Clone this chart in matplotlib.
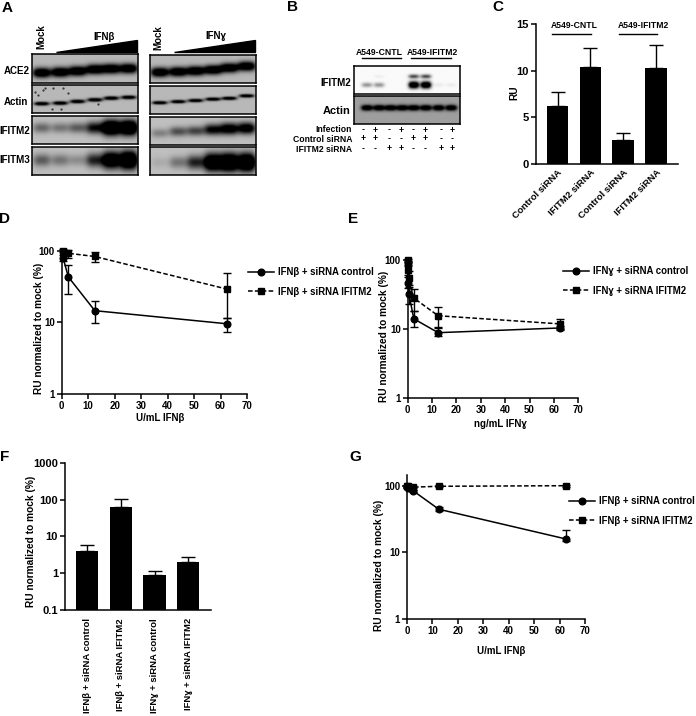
import numpy as np
import matplotlib
matplotlib.use('Agg')
import matplotlib.pyplot as plt
from matplotlib.patches import Polygon

plt.rcParams['font.family'] = ['Liberation Sans', 'DejaVu Sans']
plt.rcParams['font.weight'] = 'bold'
plt.rcParams['axes.labelweight'] = 'bold'

W, H = 696, 716

# A ブロット（バンドの濃さ）
a_lanes = [0.09, 0.265, 0.43, 0.595, 0.75, 0.915]
a_ace2_y_l = [0.65, 0.63, 0.59, 0.53, 0.51, 0.50]
a_ace2_y_r = [0.62, 0.60, 0.57, 0.53, 0.46, 0.40]
a_actin_y_l = [0.67, 0.65, 0.59, 0.53, 0.47, 0.44]
a_actin_y_r = [0.60, 0.56, 0.52, 0.47, 0.44, 0.35]
a_ace2_s = [1.05, 1.05, 1.05, 1.05, 1.05, 1.05]
a_actin_s = [1.0, 1.0, 1.0, 1.0, 1.0, 1.0]
a_m2_l = [0.35, 0.30, 0.40, 0.75, 1.4, 1.4]
a_m2_r = [0.25, 0.45, 0.50, 0.80, 0.95, 0.95]
a_m3_l = [0.40, 0.30, 0.20, 0.65, 1.2, 1.4]
a_m3_r = [0.08, 0.30, 0.65, 1.3, 1.4, 1.4]

# B ブロット
b_lanes = [0.12, 0.235, 0.345, 0.455, 0.565, 0.68, 0.80, 0.92]
b_m2_low = [0.4, 0.4, 0, 0, 1.5, 1.5, 0.06, 0.06]
b_m2_up = [0, 0.05, 0, 0, 0.7, 0.7, 0, 0]
b_actin = [0.9] * 8
b_infection = ['-', '+', '-', '+', '-', '+', '-', '+']
b_control = ['+', '+', '-', '-', '+', '+', '-', '-']
b_sirna = ['-', '-', '+', '+', '-', '-', '+', '+']
b_sign_x = [363, 375, 389, 401, 413, 425, 441, 452]

# C
c_labels = ['Control siRNA', 'IFITM2 siRNA', 'Control siRNA', 'IFITM2 siRNA']
c_vals = [6.25, 10.35, 2.55, 10.3]
c_err = [1.45, 2.05, 0.75, 2.45]

# D
d_x = [0.5, 2.5, 12.5, 62.5]
d_c = [80, 43, 14.5, 9.5]
d_c_lo = [8, 18, 4.7, 2.2]
d_c_hi = [8, 20, 5.5, 1.9]
d_s = [100, 92, 83, 29]
d_s_lo = [5, 12, 13, 17.6]
d_s_hi = [5, 10, 13, 19]

# E
e_x = [0.02, 0.1, 0.5, 2.5, 12.5, 62.5]
e_c = [90, 47, 32, 14, 8.8, 10.3]
e_c_lo = [8, 8, 9, 3.5, 0.8, 0.8]
e_c_hi = [8, 10, 11, 4, 1.6, 0.8]
e_s = [100, 72, 54, 28, 15.5, 11.8]
e_s_lo = [5, 12, 14, 10, 5, 1.8]
e_s_hi = [5, 12, 16, 10, 5.5, 2.2]

# F
f_labels = ['IFNβ + siRNA control', 'IFNβ + siRNA IFITM2', 'IFNɣ + siRNA control', 'IFNɣ + siRNA IFITM2']
f_vals = [3.9, 62, 0.87, 2.0]
f_err = [1.8, 43, 0.28, 0.75]

# G
g_x = [0.1, 0.5, 2.5, 12.5, 62.5]
g_c = [98, 95, 85, 45, 16]
g_c_lo = [3, 3, 4, 3, 1]
g_c_hi = [3, 3, 4, 3, 6]
g_s = [100, 100, 97, 100, 102]
g_s_err = [3, 3, 3, 3, 3]


def px_ax(fig, l, t, r, b):
    return fig.add_axes([l / W, 1 - b / H, (r - l) / W, (b - t) / H])


def txt(fig, x, y, s, size=6.5, ha='center', va='center', rot=0, weight='bold'):
    fig.text(x / W, 1 - y / H, s, fontsize=size, ha=ha, va=va, rotation=rot, fontweight=weight)


def hline(fig, x0, x1, y):
    fig.add_artist(plt.Line2D([x0 / W, x1 / W], [1 - y / H, 1 - y / H], color='black', lw=1))


def blot(fig, box, bg, layers):
    # layers: (レーン位置, y位置, 濃さ, 横幅, 縦幅)
    ax = px_ax(fig, *box)
    h, w = 60, 160
    yy, xx = np.mgrid[0:1:h * 1j, 0:1:w * 1j]
    img = np.full((h, w), float(bg))
    for lanes, ys, ss, sx, sy in layers:
        for c, y0, s in zip(lanes, ys, ss):
            g = s * np.exp(-(np.abs(xx - c) / sx) ** 3 - ((yy - y0) / (sy * (0.8 + 0.4 * s))) ** 2)
            img = img - g
    ax.imshow(np.clip(img, 0, 1), cmap='gray', vmin=0, vmax=1, aspect='auto',
              extent=[0, 1, 1, 0], interpolation='bilinear')
    ax.set_xticks([])
    ax.set_yticks([])
    for s in ax.spines.values():
        s.set_linewidth(1.1)
    return ax


def style(ax, fig, size, xlabel=None, xl=None, ylabel=None, yl=None):
    ax.spines['top'].set_visible(False)
    ax.spines['right'].set_visible(False)
    ax.spines['left'].set_linewidth(1.1)
    ax.spines['bottom'].set_linewidth(1.1)
    ax.tick_params(which='major', length=3.5, width=1.1, labelsize=size, pad=1.5)
    ax.tick_params(which='minor', length=0)
    if ylabel:
        ax.set_ylabel(ylabel, fontsize=7.3, va='center')
        ax.yaxis.set_label_coords(yl[0] / W, 1 - yl[1] / H, transform=fig.transFigure)
    if xlabel:
        ax.set_xlabel(xlabel, fontsize=7, va='center')
        ax.xaxis.set_label_coords(xl[0] / W, 1 - xl[1] / H, transform=fig.transFigure)


def curve_ax(fig, box, ytop, xlabel, xl, yl):
    ax = px_ax(fig, *box)
    ax.set_yscale('log')
    ax.set_xlim(0, 70)
    ax.set_ylim(1, ytop)
    ax.set_xticks(range(0, 71, 10))
    ax.set_yticks([1, 10, 100])
    ax.set_yticklabels(['1', '10', '100'])
    ax.minorticks_off()
    style(ax, fig, 7, xlabel, xl, 'RU normalized to mock (%)', yl)
    return ax


def curve(ax, x, y, lo, hi, ls, marker, label):
    ax.errorbar(x, y, yerr=[lo, hi], ls='none', color='black', elinewidth=1.0,
                capsize=2.8, capthick=1.0, clip_on=False)
    if ls == '--':
        ax.plot(x, y, marker=marker, ms=4.8, color='black', lw=1.1, clip_on=False,
                label=label, dashes=(3, 1.5))
    else:
        ax.plot(x, y, marker=marker, ms=4.8, color='black', lw=1.1, clip_on=False, label=label)


def legend(ax, fig, x, y):
    ax.legend(loc='upper left', bbox_to_anchor=(x / W, 1 - y / H), bbox_transform=fig.transFigure,
              frameon=False, fontsize=6.9, handlelength=2.75, handletextpad=0.4,
              labelspacing=1.0, borderpad=0, borderaxespad=0)


fig = plt.figure(figsize=(W / 100, H / 100), dpi=100)

# パネル文字
for s, x, y in [('A', 7, 8), ('B', 293, 7), ('C', 498, 7), ('D', 5, 219), ('E', 353, 219), ('F', 5, 457), ('G', 355, 457)]:
    txt(fig, x, y, s, size=11)

# A
bg_a = 0.72
blot(fig, (32, 54, 138, 83), bg_a, [(a_lanes, a_ace2_y_l, a_ace2_s, 0.085, 0.14)])
ax_sp = blot(fig, (32, 85, 138, 113), bg_a, [(a_lanes, a_actin_y_l, a_actin_s, 0.07, 0.055)])
ax_sp.plot([0.03, 0.06, 0.10, 0.12, 0.20, 0.29, 0.34, 0.62, 0.27, 0.19],
           [0.25, 0.35, 0.18, 0.10, 0.10, 0.12, 0.30, 0.68, 0.84, 0.85],
           ls='none', marker='.', ms=1.2, color='#333333')
blot(fig, (32, 116, 138, 144), 0.75, [(a_lanes, [0.42] * 6, a_m2_l, 0.085, 0.2)])
blot(fig, (32, 147, 138, 175), 0.75, [(a_lanes, [0.47] * 6, a_m3_l, 0.085, 0.24)])
blot(fig, (150, 55, 256, 83), bg_a, [(a_lanes, a_ace2_y_r, a_ace2_s, 0.085, 0.14)])
blot(fig, (150, 86, 256, 114), bg_a, [(a_lanes, a_actin_y_r, a_actin_s, 0.07, 0.05)])
blot(fig, (150, 117, 256, 145), 0.75, [(a_lanes, [0.58, 0.52, 0.5, 0.45, 0.42, 0.4], a_m2_r, 0.085, 0.18)])
blot(fig, (150, 147, 256, 175), 0.75, [(a_lanes, [0.55] * 6, a_m3_r, 0.085, 0.24)])

txt(fig, 41.5, 37, 'Mock', rot=90, size=7)
txt(fig, 158, 38, 'Mock', rot=90, size=7)
txt(fig, 104, 36.5, 'IFNβ', size=7)
txt(fig, 216, 36, 'IFNɣ', size=7)
fig.add_artist(Polygon([(55.7 / W, 1 - 52 / H), (137.3 / W, 1 - 52 / H), (137.3 / W, 1 - 40 / H)],
                       closed=True, color='black', transform=fig.transFigure))
fig.add_artist(Polygon([(174 / W, 1 - 52 / H), (255.3 / W, 1 - 52 / H), (255.3 / W, 1 - 40 / H)],
                       closed=True, color='black', transform=fig.transFigure))
txt(fig, 30, 71, 'ACE2', ha='right', size=7)
txt(fig, 28, 102, 'Actin', ha='right', size=7)
txt(fig, 30.5, 131, 'IFITM2', ha='right', size=7)
txt(fig, 30.5, 160, 'IFITM3', ha='right', size=7)

# B
blot(fig, (354, 66, 460, 94), 0.98, [(b_lanes, [0.68] * 8, b_m2_low, 0.05, 0.09),
                                      (b_lanes, [0.37] * 8, b_m2_up, 0.05, 0.07)])
blot(fig, (354, 96, 460, 124), 0.62, [(b_lanes, [0.42] * 8, b_actin, 0.055, 0.09)])
txt(fig, 379, 52.5, 'A549-CNTL', size=6.2)
txt(fig, 432, 52.5, 'A549-IFITM2', size=6.2)
hline(fig, 362, 401, 58.3)
hline(fig, 411, 451, 58.3)
txt(fig, 351.5, 83, 'IFITM2', ha='right', size=7)
txt(fig, 351, 110.5, 'Actin', ha='right', size=8)
for label, row, y in [('Infection', b_infection, 130), ('Control siRNA', b_control, 139), ('IFITM2 siRNA', b_sirna, 149)]:
    txt(fig, 352, y, label, ha='right', size=6.2)
    for x, s in zip(b_sign_x, row):
        txt(fig, x, y, s, size=6.2)

# C
ax = px_ax(fig, 535.7, 24, 678, 164)
ax.bar(range(4), c_vals, width=0.66, color='black')
ax.errorbar(range(4), c_vals, yerr=[[0] * 4, c_err], ls='none', color='black', elinewidth=1.0, capsize=4.8, capthick=1.0)
ax.set_xlim(-0.67, 3.67)
ax.set_ylim(0, 15)
ax.set_yticks([0, 5, 10, 15])
ax.set_xticks(range(4))
ax.set_xticklabels(c_labels, rotation=45, ha='right', rotation_mode='anchor')
style(ax, fig, 8, ylabel='RU', yl=(514, 92.7))
ax.tick_params(axis='x', labelsize=6.8, length=0, pad=3)
txt(fig, 574.7, 26, 'A549-CNTL', size=6.2)
txt(fig, 643.7, 26, 'A549-IFITM2', size=6.2)
hline(fig, 552, 590.7, 34)
hline(fig, 619, 656.7, 34)

# D
ax = curve_ax(fig, (61.7, 250.7, 247, 393.7), 100, 'U/mL IFNβ', (160, 418), (39, 328))
curve(ax, d_x, d_c, d_c_lo, d_c_hi, '-', 'o', 'IFNβ + siRNA control')
curve(ax, d_x, d_s, d_s_lo, d_s_hi, '--', 's', 'IFNβ + siRNA IFITM2')
legend(ax, fig, 248, 267)

# E
ax = curve_ax(fig, (407.7, 260, 578.3, 397.7), 100, 'ng/mL IFNɣ', (500, 424), (384, 336))
curve(ax, e_x, e_c, e_c_lo, e_c_hi, '-', 'o', 'IFNɣ + siRNA control')
curve(ax, e_x, e_s, e_s_lo, e_s_hi, '--', 's', 'IFNɣ + siRNA IFITM2')
legend(ax, fig, 563, 266)

# F
ax = px_ax(fig, 65, 463, 210.7, 609.7)
ax.set_yscale('log')
ax.bar(range(4), f_vals, width=0.66, color='black')
ax.errorbar(range(4), f_vals, yerr=[[0] * 4, f_err], ls='none', color='black', elinewidth=1.0, capsize=4.8, capthick=1.0)
ax.set_xlim(-0.66, 3.67)
ax.set_ylim(0.1, 1000)
ax.set_yticks([0.1, 1, 10, 100, 1000])
ax.set_yticklabels(['0.1', '1', '10', '100', '1000'])
ax.minorticks_off()
ax.set_xticks(range(4))
ax.set_xticklabels(f_labels, rotation=90)
style(ax, fig, 8, ylabel='RU normalized to mock (%)', yl=(31, 541.7))
ax.tick_params(axis='x', labelsize=6.8, length=0, pad=6)

# G
ax = curve_ax(fig, (407, 475, 585, 618.7), 148, 'U/mL IFNβ', (500.7, 650.7), (379, 565))
curve(ax, g_x, g_c, g_c_lo, g_c_hi, '-', 'o', 'IFNβ + siRNA control')
curve(ax, g_x, g_s, g_s_err, g_s_err, '--', 's', 'IFNβ + siRNA IFITM2')
legend(ax, fig, 569, 496)

fig.savefig('out.png', dpi=100)
